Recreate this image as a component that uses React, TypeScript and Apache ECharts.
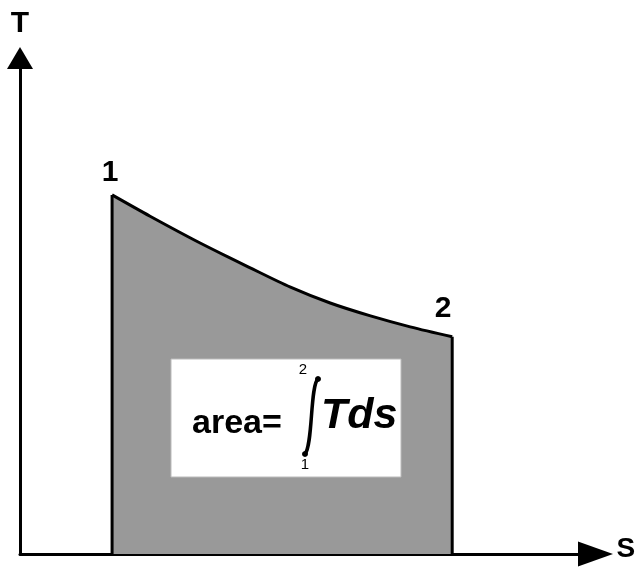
import React, { useEffect, useRef } from "react";
import * as echarts from "echarts";

// entropy s (x) and temperature T (y) along the process curve 1 -> 2
const sValues = [16.0, 22.6, 31.3, 40.0, 47.0, 53.9, 60.9, 67.8, 75.1];
const tValues = [72.4, 68.1, 62.7, 57.7, 53.8, 50.6, 48.0, 45.8, 43.8];
const pointLabels = ["1", "2"];
const axisNames = ["S", "T"];

export default function App() {
  const ref = useRef<HTMLDivElement>(null);
  useEffect(() => {
    if (!ref.current) return;
    const chart = echarts.init(ref.current, null, { renderer: "svg" });
    const n = sValues.length;
    const curve = sValues.map((s, i) => [s, tValues[i]]);
    const labelStyle = { fontFamily: "Liberation Sans", fontWeight: "bold" as const, fontSize: 30, color: "#000" };
    const ends = [
      { value: [sValues[0], tValues[0]], label: { formatter: pointLabels[0], offset: [-2, -4] } },
      { value: [sValues[n - 1], tValues[n - 1]], label: { formatter: pointLabels[1], offset: [-9, -10] } },
    ];
    chart.setOption({
      animation: false,
      grid: { left: 20, right: 45.5, top: 58, bottom: 13, outerBoundsMode: "none", containLabel: false },
      xAxis: {
        type: "value",
        min: 0,
        max: 100,
        name: axisNames[0],
        nameLocation: "end",
        nameGap: 21,
        nameTextStyle: { ...labelStyle, fontSize: 28, align: "left", verticalAlign: "bottom", lineHeight: 14 },
        axisLine: { show: true, symbol: ["none", "triangle"], symbolSize: [25, 35], lineStyle: { color: "#000", width: 3 } },
        axisTick: { show: false },
        axisLabel: { show: false },
        splitLine: { show: false },
      },
      yAxis: {
        type: "value",
        min: 0,
        max: 100,
        name: axisNames[1],
        nameLocation: "end",
        nameGap: 37,
        nameTextStyle: { ...labelStyle, align: "center", verticalAlign: "middle" },
        axisLine: { show: true, symbol: ["none", "triangle"], symbolSize: [26, 22], lineStyle: { color: "#000", width: 3 } },
        axisTick: { show: false },
        axisLabel: { show: false },
        splitLine: { show: false },
      },
      series: [
        {
          type: "line",
          data: curve,
          smooth: 0.3,
          showSymbol: false,
          symbol: "none",
          lineStyle: { color: "#000", width: 3 },
          areaStyle: { color: "#999999", opacity: 1 },
          z: 2,
        },
        {
          type: "line",
          data: [[sValues[0], 0], [sValues[0], tValues[0]]],
          symbol: "none",
          lineStyle: { color: "#000", width: 3 },
          z: 3,
        },
        {
          type: "line",
          data: [[sValues[n - 1], 0], [sValues[n - 1], tValues[n - 1]]],
          symbol: "none",
          lineStyle: { color: "#000", width: 3 },
          z: 3,
        },
        {
          type: "scatter",
          data: ends,
          symbolSize: 1,
          itemStyle: { color: "rgba(0,0,0,0)" },
          label: { show: true, position: "top", ...labelStyle, textBorderWidth: 0, opacity: 1 },
          z: 4,
        },
      ],
      graphic: [
        { type: "rect", z: 100, shape: { x: 171, y: 359, width: 230, height: 118 }, style: { fill: "#fff", stroke: "#bbb", lineWidth: 1 } },
        {
          type: "text",
          z: 101,
          x: 192,
          y: 421,
          style: { text: "area=", font: "bold 34px 'Liberation Sans'", fill: "#000", verticalAlign: "middle" },
        },
        {
          type: "text",
          z: 101,
          x: 321,
          y: 413,
          style: { text: "Tds", font: "italic bold 43px 'Liberation Sans'", fill: "#000", verticalAlign: "middle" },
        },
        {
          type: "bezierCurve",
          z: 101,
          shape: { x1: 318, y1: 379, cpx1: 310, cpy1: 385, cpx2: 313, cpy2: 445, x2: 305, y2: 454 },
          style: { stroke: "#000", lineWidth: 3.5, fill: null },
        },
        { type: "circle", z: 101, shape: { cx: 318, cy: 379, r: 3 }, style: { fill: "#000" } },
        { type: "circle", z: 101, shape: { cx: 305, cy: 454, r: 3 }, style: { fill: "#000" } },
        {
          type: "text",
          z: 101,
          x: 303,
          y: 368,
          style: { text: "2", font: "15px 'Liberation Sans'", fill: "#000", align: "center", verticalAlign: "middle" },
        },
        {
          type: "text",
          z: 101,
          x: 305,
          y: 463,
          style: { text: "1", font: "15px 'Liberation Sans'", fill: "#000", align: "center", verticalAlign: "middle" },
        },
      ],
    });
    return () => chart.dispose();
  }, []);
  return <div ref={ref} style={{ position: "fixed", left: 0, top: 0, width: 641, height: 567 }} />;
}
